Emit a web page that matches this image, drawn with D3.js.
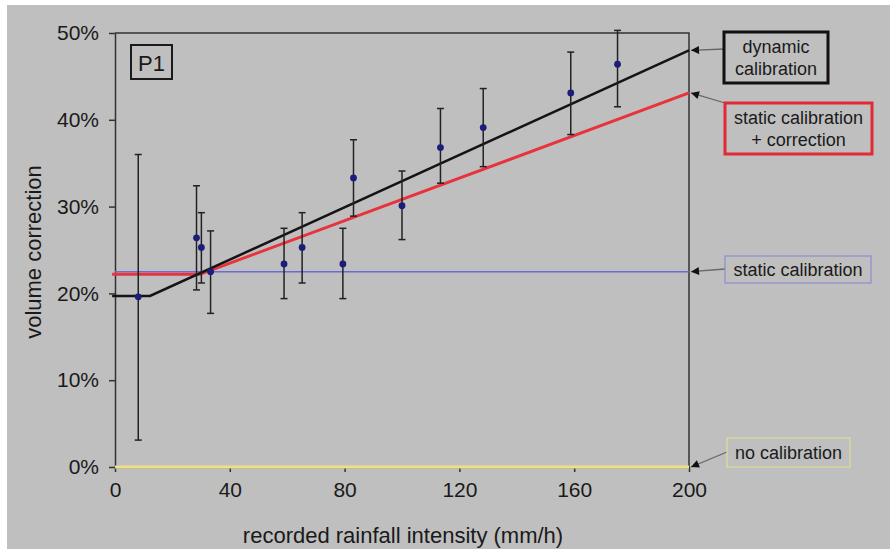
<!DOCTYPE html>
<html>
<head>
<meta charset="utf-8">
<script src="https://cdn.jsdelivr.net/npm/d3@7"></script>
<style>
  html, body { margin: 0; padding: 0; background: #fff; }
  svg { display: block; font-family: "Liberation Sans", Arial, sans-serif; }
</style>
</head>
<body>
<svg id="chart" width="890" height="549"></svg>
<script>
// measured points (rainfall intensity mm/h, volume correction %)
const pointX = [8.1, 28.4, 30.1, 33.3, 58.9, 65.2, 79.4, 83.1, 100, 113.4, 128.3, 158.8, 175.1];
const pointY = [19.6, 26.4, 25.3, 22.5, 23.4, 25.3, 23.4, 33.3, 30.1, 36.8, 39.1, 43.1, 46.4];
const errHigh = [36.0, 32.4, 29.3, 27.2, 27.5, 29.3, 27.5, 37.7, 34.1, 41.3, 43.6, 47.8, 50.3];
const errLow = [3.1, 20.4, 21.2, 17.7, 19.4, 21.2, 19.4, 28.9, 26.2, 32.7, 34.6, 38.3, 41.5];

// calibration curves
const dynamicLine = [[-1, 19.7], [12.2, 19.7], [200, 48.0]];
const staticCorrLine = [[-1, 22.2], [29.6, 22.2], [200, 43.1]];
const staticLine = [[0, 22.5], [200, 22.5]];
const noCalLine = [[0, 0], [200, 0]];

const xTicks = [0, 40, 80, 120, 160, 200];
const yTicks = [0, 10, 20, 30, 40, 50];

const width = 890, height = 549;
const margin = { top: 33, left: 115, right: 201, bottom: 82 };
const innerW = width - margin.left - margin.right;
const innerH = height - margin.top - margin.bottom;

const svg = d3.select('#chart');

// background (white strip top/left like the scan)
svg.append('rect').attr('x', 7).attr('y', 5).attr('width', width - 7).attr('height', height - 5).attr('fill', '#bfbfbf');

let defs = svg.append('defs');
defs.append('marker')
  .attr('id', 'arrow')
  .attr('viewBox', '0 0 10 10')
  .attr('refX', 10).attr('refY', 5)
  .attr('markerWidth', 10).attr('markerHeight', 8)
  .attr('markerUnits', 'userSpaceOnUse')
  .attr('orient', 'auto')
  .append('path').attr('d', 'M0,0 L10,5 L0,10 Z').attr('fill', '#111');

let x = d3.scaleLinear().domain([0, 200]).range([0, innerW]);
let y = d3.scaleLinear().domain([0, 50]).range([innerH, 0]);

let g = svg.append('g').attr('transform', 'translate(' + margin.left + ',' + margin.top + ')');

// plot frame: top and right
g.append('path')
  .attr('d', `M0 0H${innerW}V${innerH}`)
  .attr('fill', 'none').attr('stroke', '#333').attr('stroke-width', 1.5);

// axes
let axisLeft = d3.axisLeft(y).tickValues(yTicks).tickFormat(d => d + '%').tickSizeInner(6).tickSizeOuter(0).tickPadding(10);
let axisBottom = d3.axisBottom(x).tickValues(xTicks).tickSizeInner(5).tickSizeOuter(0).tickPadding(10);

let ay = g.append('g').attr('class', 'axis y').call(axisLeft);
let ax = g.append('g').attr('class', 'axis x').attr('transform', 'translate(0,' + innerH + ')').call(axisBottom);
[ax, ay].forEach(a => {
  a.select('.domain').attr('stroke', '#333').attr('stroke-width', 1.5);
  a.selectAll('.tick line').attr('stroke', '#333').attr('stroke-width', 1.5);
  a.selectAll('.tick text').attr('fill', '#1a1a1a').attr('font-size', 21);
});

// axis titles
svg.append('text')
  .attr('x', margin.left + innerW / 2 + 1).attr('y', 543)
  .attr('text-anchor', 'middle').attr('font-size', 22).attr('fill', '#1a1a1a')
  .text('recorded rainfall intensity (mm/h)');
svg.append('text')
  .attr('transform', `translate(41,${margin.top + innerH / 2 + 2}) rotate(-90)`)
  .attr('text-anchor', 'middle').attr('font-size', 22).attr('fill', '#1a1a1a')
  .text('volume correction');

// lines
let line = d3.line().x(d => x(d[0])).y(d => y(d[1]));
g.append('path').datum(noCalLine).attr('d', line).attr('fill', 'none').attr('stroke', '#eee08a').attr('stroke-width', 3);
g.append('path').datum(staticLine).attr('d', line).attr('fill', 'none').attr('stroke', '#6a6ad8').attr('stroke-width', 1.6);
g.append('path').datum(staticCorrLine).attr('d', line).attr('fill', 'none').attr('stroke', '#e8323c').attr('stroke-width', 3);
g.append('path').datum(dynamicLine).attr('d', line).attr('fill', 'none').attr('stroke', '#141414').attr('stroke-width', 2.5);

// error bars and points
let pts = pointX.map((px, i) => ({ x: px, y: pointY[i], hi: errHigh[i], lo: errLow[i] }));
let eb = g.append('g').selectAll('g').data(pts).enter().append('g');
eb.append('line')
  .attr('x1', d => x(d.x)).attr('x2', d => x(d.x))
  .attr('y1', d => y(d.hi)).attr('y2', d => y(d.lo))
  .attr('stroke', '#222').attr('stroke-width', 1.5);
['hi', 'lo'].forEach(k => {
  eb.append('line')
    .attr('x1', d => x(d.x) - 3.5).attr('x2', d => x(d.x) + 3.5)
    .attr('y1', d => y(d[k])).attr('y2', d => y(d[k]))
    .attr('stroke', '#222').attr('stroke-width', 1.5);
});
eb.append('circle')
  .attr('cx', d => x(d.x)).attr('cy', d => y(d.y)).attr('r', 3.4)
  .attr('fill', '#1c1c7a');

// P1 label
g.append('rect').attr('x', 16).attr('y', 12).attr('width', 41).attr('height', 34)
  .attr('fill', 'none').attr('stroke', '#1a1a1a').attr('stroke-width', 2);
g.append('text').attr('x', 36.5).attr('y', 38).attr('text-anchor', 'middle')
  .attr('font-size', 22).attr('fill', '#1a1a1a').text('P1');

// annotations
const notes = [
  { lines: ['dynamic', 'calibration'], box: [724, 32, 104, 51], stroke: '#111', sw: 3, from: [724, 49], target: dynamicLine },
  { lines: ['static calibration', '+ correction'], box: [725, 103, 147, 51], stroke: '#e32a34', sw: 3, from: [725, 103], target: staticCorrLine },
  { lines: ['static calibration'], box: [725, 256, 146, 27], stroke: '#8c8cd0', sw: 1.2, from: [725, 269], target: staticLine },
  { lines: ['no calibration'], box: [727, 438, 123, 29], stroke: '#e0dc9a', sw: 1.2, from: [727, 452], target: noCalLine },
];
notes.forEach(n => {
  let [bx, by, bw, bh] = n.box;
  let end = n.target[n.target.length - 1];
  svg.append('line')
    .attr('x1', n.from[0]).attr('y1', n.from[1])
    .attr('x2', margin.left + x(end[0]) + 2).attr('y2', margin.top + y(end[1]))
    .attr('stroke', '#666').attr('stroke-width', 1.3)
    .attr('marker-end', 'url(#arrow)');
  svg.append('rect').attr('x', bx).attr('y', by).attr('width', bw).attr('height', bh)
    .attr('fill', '#bfbfbf').attr('stroke', n.stroke).attr('stroke-width', n.sw);
  let t = svg.append('text').attr('text-anchor', 'middle').attr('font-size', 18).attr('fill', '#1a1a1a');
  let lh = 22;
  let startY = by + bh / 2 - (n.lines.length - 1) * lh / 2 + 6;
  n.lines.forEach((s, i) => {
    t.append('tspan').attr('x', bx + bw / 2).attr('y', startY + i * lh).text(s);
  });
});
</script>
</body>
</html>
